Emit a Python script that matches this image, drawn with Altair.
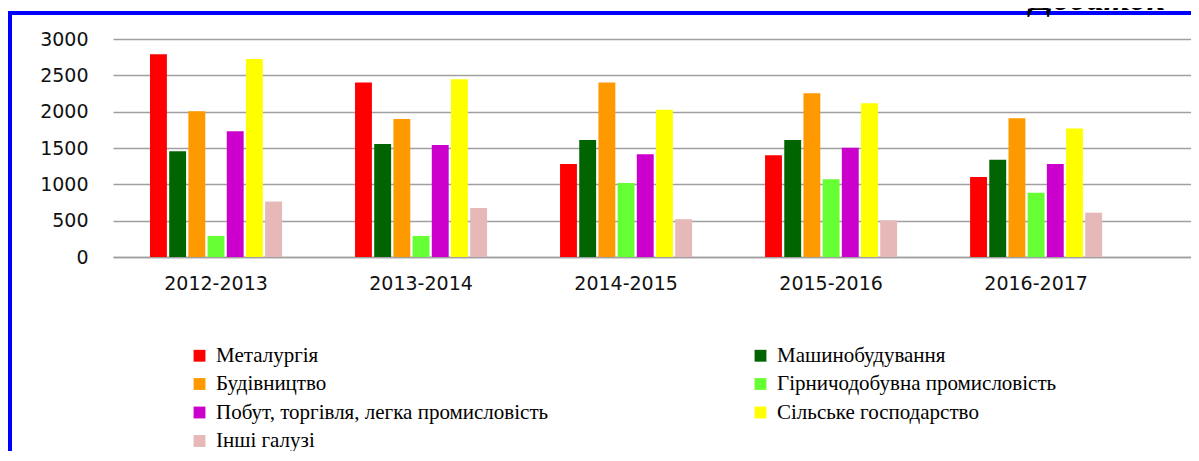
import altair as alt
import pandas as pd

years = ["2012-2013", "2013-2014", "2014-2015", "2015-2016", "2016-2017"]
series = [
    "Металургія",
    "Машинобудування",
    "Будівництво",
    "Гірничодобувна промисловість",
    "Побут, торгівля, легка промисловість",
    "Сільське господарство",
    "Інші галузі",
]
colors = ["#FF0000", "#006400", "#FF9900", "#66FF33", "#CC00CC", "#FFFF00", "#E6B8B7"]

metallurgy = [2790, 2400, 1280, 1400, 1100]
machinery = [1455, 1555, 1610, 1610, 1340]
construction = [2005, 1900, 2400, 2255, 1910]
mining = [290, 290, 1020, 1070, 885]
trade = [1730, 1540, 1415, 1505, 1280]
agriculture = [2725, 2445, 2025, 2115, 1770]
other = [765, 675, 520, 505, 610]

y_ticks = [0, 500, 1000, 1500, 2000, 2500, 3000]

values = [metallurgy, machinery, construction, mining, trade, agriculture, other]
rows = []
for s, vals in zip(series, values):
    for yr, v in zip(years, vals):
        rows.append({"year": yr, "series": s, "value": v})
df = pd.DataFrame(rows)

# legend is laid out column by column, so order entries to read row by row
legend_order = series[0::2] + series[1::2]
color_of = dict(zip(series, colors))
legend_colors = [color_of[s] for s in legend_order]

W = 1078
H = 218

bars = alt.Chart(df).mark_bar().encode(
    x=alt.X("year:N", sort=years, title=None,
            scale=alt.Scale(paddingInner=0.356, paddingOuter=0.307, align=0.294),
            axis=alt.Axis(labelAngle=0, labelFont="DejaVu Sans", labelFontSize=19,
                          labelColor="#111111", labelPadding=17, ticks=False,
                          domain=True, domainColor="#a0a0a0", domainWidth=1.5,
                          grid=False)),
    xOffset=alt.XOffset("series:N", sort=series,
                        scale=alt.Scale(paddingInner=0.12, paddingOuter=0)),
    y=alt.Y("value:Q", title=None,
            scale=alt.Scale(domain=[0, 3000], nice=False),
            axis=alt.Axis(values=y_ticks, format="d", labelFont="DejaVu Sans",
                          labelFontSize=19, labelColor="#111111", labelPadding=25,
                          ticks=False, domain=False, grid=True, gridColor="#a0a0a0",
                          gridWidth=1.5)),
    color=alt.Color("series:N",
                    scale=alt.Scale(domain=legend_order, range=legend_colors),
                    legend=alt.Legend(title=None, orient="none", legendX=76, legendY=306,
                                      columns=2, columnPadding=201, rowPadding=6.5,
                                      symbolType="square", symbolSize=140,
                                      symbolStrokeWidth=0, labelFont="Liberation Serif",
                                      labelFontSize=21, labelColor="#000000",
                                      labelOffset=6, labelLimit=600)),
)

one = pd.DataFrame({"k": [0]})

border_top = alt.Chart(one).mark_rule(color="#0000FF", strokeWidth=4).encode(
    x=alt.value(-105), x2=alt.value(W + 10), y=alt.value(-26)
)
border_left = alt.Chart(one).mark_rule(color="#0000FF", strokeWidth=4).encode(
    x=alt.value(-103), y=alt.value(-28), y2=alt.value(430)
)
corner_text = alt.Chart(one).mark_text(
    text="Додаток", font="Liberation Serif", fontSize=34, fontWeight="bold",
    fontStyle="italic", align="left", baseline="alphabetic", color="#000000"
).encode(x=alt.value(1030 - 113), y=alt.value(10 - 39))

chart = alt.layer(bars, border_top, border_left, corner_text).properties(
    width=W, height=H,
    autosize=alt.AutoSizeParams(type="none"),
    padding={"left": 105, "top": 31, "right": 0, "bottom": 194},
    background="white",
).configure_view(stroke=None)

chart.save("out.html", embed_options={"renderer": "svg", "actions": False})
